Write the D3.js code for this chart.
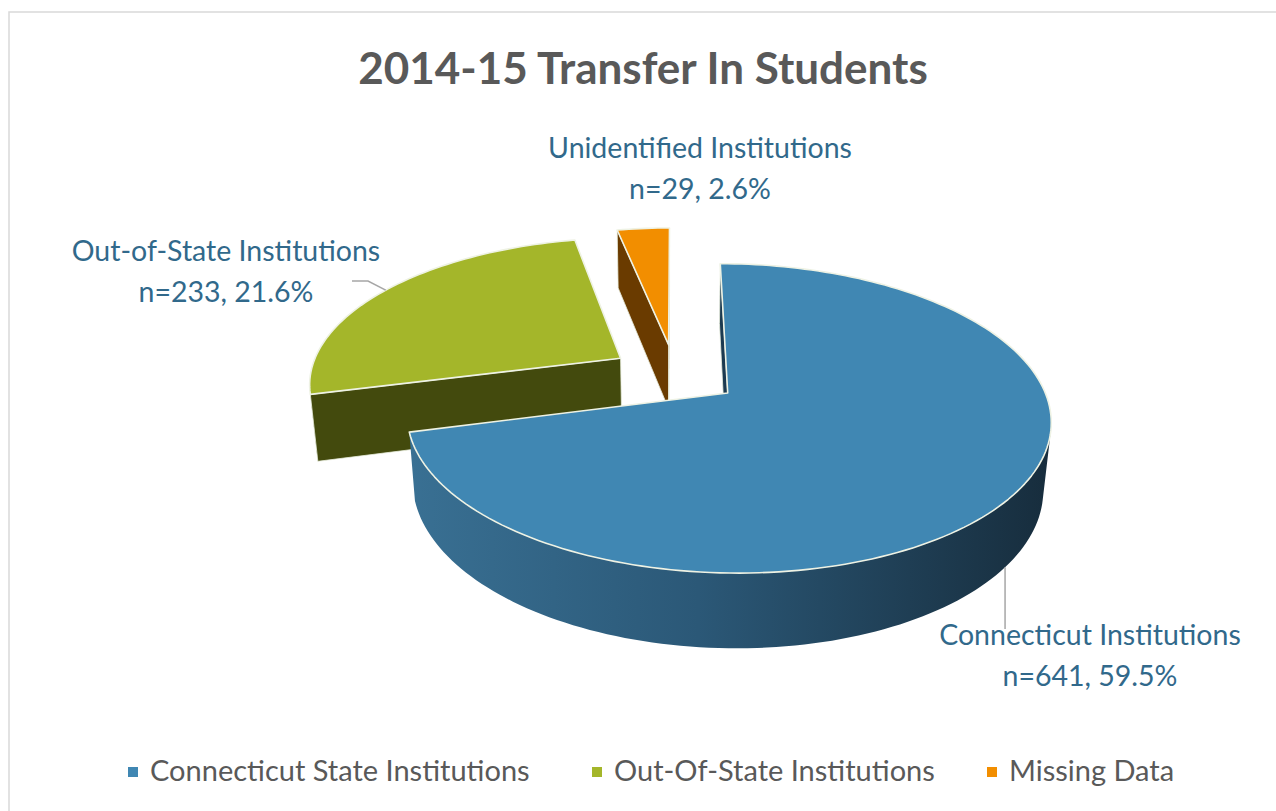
<!DOCTYPE html>
<html>
<head>
<meta charset="utf-8">
<script src="https://cdn.jsdelivr.net/npm/d3@7"></script>
<style>
  body { margin: 0; background: #fff; }
  svg text { font-family: Lato, "Open Sans", sans-serif; }
</style>
</head>
<body>
<svg id="chart" width="1276" height="811"></svg>
<script>
/* DATA */
var categories = ["Connecticut Institutions", "Out-of-State Institutions", "Unidentified Institutions"];
var legendNames = ["Connecticut State Institutions", "Out-Of-State Institutions", "Missing Data"];
var counts = [641, 233, 29];
var percents = ["59.5%", "21.6%", "2.6%"];

/* COLOURS */
var topColor = ["#4087b3", "#a4b62a", "#f28e00"];
var cutColor = ["#1c3a50", "#434a0d", "#6a3b00"];
var rimColor = [["#3c7599", "#2b5877", "#172d3d"], ["#3e440b", "#3e440b", "#3e440b"], ["#6a3b00", "#6a3b00", "#6a3b00"]];

var svg = d3.select('#chart');

svg.append('rect')
  .attr('x', 9).attr('y', 12)
  .attr('width', 1300).attr('height', 900)
  .attr('fill', 'none')
  .attr('stroke', '#d9d9d9')
  .attr('stroke-width', 1.5);

svg.append('text')
  .attr('x', 643).attr('y', 84)
  .attr('text-anchor', 'middle')
  .attr('font-size', 44)
  .attr('font-weight', 'bold')
  .attr('fill', '#595959')
  .text('2014-15 Transfer In Students');

/* 3D PROJECTION */
var cx = 675, cy = 374, S = 311, D = 5.5, H = 0.244, E = 0.21;
var elev = 27.65 * Math.PI / 180;
var sinE = Math.sin(elev), cosE = Math.cos(elev);
var cam = [0, D * sinE, -D * cosE];

function proj(p){
  var v = p[2] * sinE + p[1] * cosE;
  var w = p[2] * cosE - p[1] * sinE;
  var f = D / (D + w);
  return [cx + S * p[0] * f, cy - S * v * f];
}
function depth(p){ return p[2] * cosE - p[1] * sinE; }
function facing(n, p){
  return n[0] * (cam[0] - p[0]) + n[1] * (cam[1] - p[1]) + n[2] * (cam[2] - p[2]) > 0;
}
var line = d3.line();

var pie = d3.pie().sort(null).value(function(d){ return d; });
var arcs = pie(counts);

var slices = arcs.map(function(a, i){
  var mid = (a.startAngle + a.endAngle) / 2;
  var ox = E * Math.sin(mid), oz = E * Math.cos(mid);
  function rim(t, y){ return [ox + Math.sin(t), y, oz + Math.cos(t)]; }
  var n = Math.ceil((a.endAngle - a.startAngle) / (Math.PI / 120)) + 1;
  var ts = d3.range(n + 1).map(function(k){ return a.startAngle + (a.endAngle - a.startAngle) * k / n; });
  return {i: i, arc: a, mid: mid, ox: ox, oz: oz, rim: rim, ts: ts, depth: depth([ox, 0, oz])};
});

var gradDefs = svg.append('defs');
var pieG = svg.append('g');

slices.slice().sort(function(a, b){ return b.depth - a.depth; }).forEach(function(s){
  var g = pieG.append('g');
  var a0 = s.arc.startAngle, a1 = s.arc.endAngle;
  var apexT = [s.ox, 0, s.oz], apexB = [s.ox, -H, s.oz];

  // radial cut faces
  [[a0, [-Math.cos(a0), 0, Math.sin(a0)]], [a1, [Math.cos(a1), 0, -Math.sin(a1)]]].forEach(function(c){
    var rt = s.rim(c[0], 0), rb = s.rim(c[0], -H);
    if (facing(c[1], [(rt[0] + s.ox) / 2, -H / 2, (rt[2] + s.oz) / 2])) {
      g.append('path')
        .attr('d', line([apexT, rt, rb, apexB].map(proj)) + 'Z')
        .attr('fill', cutColor[s.i])
        .attr('stroke', '#e9eedd')
        .attr('stroke-width', 0.8)
        .attr('stroke-linejoin', 'round');
    }
  });

  // outer curved side, split into visible runs
  var runs = [], cur = null;
  for (var k = 0; k < s.ts.length - 1; k++) {
    var tm = (s.ts[k] + s.ts[k + 1]) / 2;
    var vis = facing([Math.sin(tm), 0, Math.cos(tm)], s.rim(tm, -H / 2));
    if (vis) {
      if (!cur) { cur = [s.ts[k]]; runs.push(cur); }
      cur.push(s.ts[k + 1]);
    } else cur = null;
  }
  runs.forEach(function(r, ri){
    var pts = r.map(function(t){ return proj(s.rim(t, 0)); })
      .concat(r.slice().reverse().map(function(t){ return proj(s.rim(t, -H)); }));
    var id = 'side' + s.i + '_' + ri;
    var grad = gradDefs.append('linearGradient')
      .attr('id', id)
      .attr('gradientUnits', 'userSpaceOnUse')
      .attr('x1', cx - S * 1.05).attr('x2', cx + S * 1.2)
      .attr('y1', 0).attr('y2', 0);
    grad.selectAll('stop').data(rimColor[s.i]).enter().append('stop')
      .attr('offset', function(d, j){ return j / 2; })
      .attr('stop-color', function(d){ return d; });
    g.append('path')
      .attr('d', line(pts) + 'Z')
      .attr('fill', 'url(#' + id + ')')
      .attr('stroke', 'none');
  });

  // top face
  var topPts = [apexT].concat(s.ts.map(function(t){ return s.rim(t, 0); })).map(proj);
  g.append('path')
    .attr('d', line(topPts) + 'Z')
    .attr('fill', topColor[s.i])
    .attr('stroke', '#eef2e4')
    .attr('stroke-width', 1.6)
    .attr('stroke-linejoin', 'round');
});

/* DATA LABELS */
var labelPos = [[1090, 645], [226, 261], [700, 158]];
var labelG = svg.append('g');
categories.forEach(function(c, i){
  var t = labelG.append('text')
    .attr('text-anchor', 'middle')
    .attr('font-size', 28.5)
    .attr('fill', '#31698b');
  t.append('tspan').attr('x', labelPos[i][0]).attr('y', labelPos[i][1]).text(c);
  t.append('tspan').attr('x', labelPos[i][0]).attr('y', labelPos[i][1] + 41)
    .text('n=' + counts[i] + ', ' + percents[i]);
});

/* LEADER LINES */
var blueEnd = proj(slices[0].rim(slices[0].mid, -H));
var greenEnd = proj(slices[1].rim(slices[1].mid, 0));
svg.append('path')
  .attr('d', line([[blueEnd[0], blueEnd[1]], [blueEnd[0], 629]]))
  .attr('fill', 'none').attr('stroke', '#a6a6a6').attr('stroke-width', 1.5);
svg.append('path')
  .attr('d', line([[352, 281], [368, 281], greenEnd]))
  .attr('fill', 'none').attr('stroke', '#a6a6a6').attr('stroke-width', 1.5);

/* LEGEND */
var legendX = [128, 592, 987];
var legend = svg.append('g').selectAll('g').data(legendNames).enter().append('g')
  .attr('transform', function(d, i){ return 'translate(' + legendX[i] + ',767)'; });
legend.append('rect')
  .attr('width', 10).attr('height', 10)
  .attr('fill', function(d, i){ return topColor[i]; });
legend.append('text')
  .attr('x', 22).attr('y', 14)
  .attr('font-size', 29)
  .attr('fill', '#595959')
  .text(function(d){ return d; });
</script>
</body>
</html>
